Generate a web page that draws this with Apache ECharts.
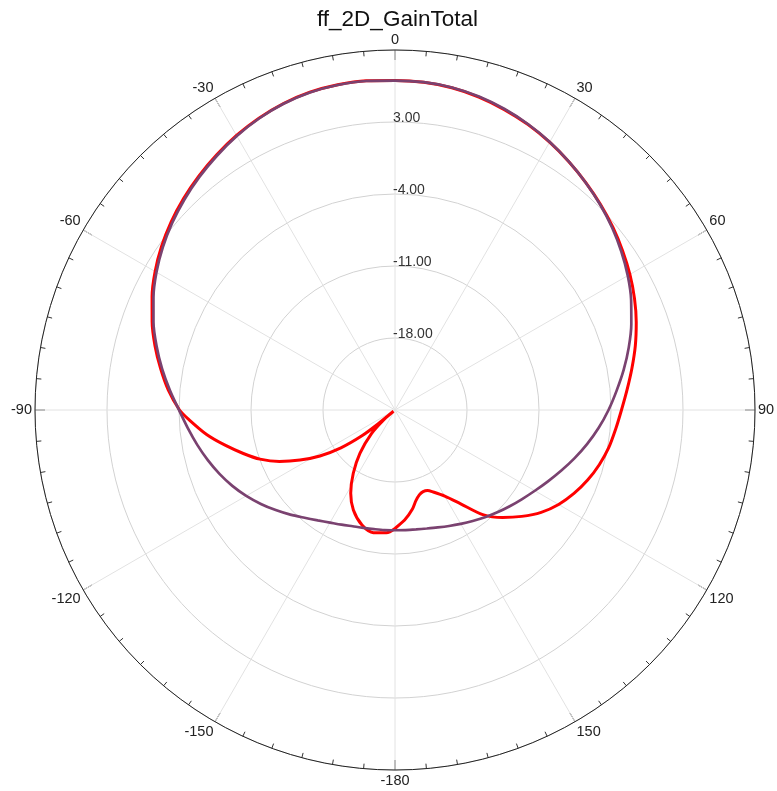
<!DOCTYPE html>
<html>
<head>
<meta charset="utf-8">
<script src="https://cdn.jsdelivr.net/npm/echarts@6/dist/echarts.min.js"></script>
<style>
  html, body { margin: 0; padding: 0; background: #fff; }
  #chart { width: 777px; height: 791px; }
</style>
</head>
<body>
<div id="chart"></div>
<script>
// Far-field total gain cuts (dB) versus angle (deg, -180..180)
const titleText = 'ff_2D_GainTotal';

const cutAAngles = [-180, -175, -170, -165, -160, -155, -150, -145, -140, -135, -130, -125, -120, -115, -110, -105, -100, -95,
  -90, -85, -80, -75, -70, -65, -60, -55, -50, -45, -40, -35, -30, -25, -20, -15, -10, -5,
  0, 5, 10, 15, 20, 25, 30, 35, 40, 45, 50, 55, 60, 65, 70, 75, 80, 85,
  90, 95, 100, 105, 110, 115, 120, 125, 130, 135, 140, 145, 150, 155, 160, 165, 170, 175, 180];
const cutAGain = [-13.31, -13.28, -13.24, -13.14, -12.97, -12.70, -12.36, -11.90, -11.32, -10.61, -9.86, -9.08, -8.30, -7.55, -6.84, -6.16, -5.48, -4.78,
  -4.00, -3.03, -2.01, -1.00, -0.01, 0.91, 1.78, 2.56, 3.28, 3.95, 4.58, 5.18, 5.76, 6.27, 6.68, 6.96, 7.08, 7.11,
  7.03, 6.99, 6.84, 6.55, 6.14, 5.65, 5.09, 4.48, 3.85, 3.22, 2.56, 1.86, 1.13, 0.33, -0.55, -1.47, -2.42, -3.37,
  -4.24, -5.12, -6.02, -6.92, -7.79, -8.59, -9.30, -9.91, -10.44, -10.93, -11.39, -11.83, -12.22, -12.56, -12.85, -13.07, -13.21, -13.28, -13.31];

const cutBAngles = [-180, -176, -170, -164, -157.4, -152, -146.6, -141, -135, -130.6, -130.1, -129.4, -128, -125, -121.5, -117.8, -114, -110, -106, -101.7, -97.4, -92.6,
  -90, -85, -80, -75, -70, -65, -60, -55, -50, -45, -40, -35, -30, -25, -20, -15, -10, -5,
  0, 5, 10, 15, 20, 25, 30, 35, 40, 45, 50, 55, 60, 65, 70, 75, 80, 85,
  90, 95, 100, 105, 110, 115, 120, 125, 130, 135, 140, 145, 150, 155, 158, 161, 164, 167, 170, 175, 180];
const cutBGain = [-13.48, -13.04, -12.89, -13.36, -14.47, -15.83, -17.63, -19.58, -21.79, -23.64, -24.81, -22.86, -20.92, -18.58, -16.44, -14.56, -12.70, -11.03, -9.66, -8.13, -6.53, -4.92,
  -4.05, -2.88, -1.86, -0.84, 0.13, 1.06, 1.93, 2.71, 3.42, 4.07, 4.68, 5.26, 5.82, 6.31, 6.71, 6.99, 7.11, 7.13,
  7.04, 6.98, 6.81, 6.50, 6.08, 5.61, 5.06, 4.47, 3.86, 3.26, 2.65, 2.01, 1.37, 0.69, -0.04, -0.81, -1.61, -2.35,
  -2.98, -3.47, -3.90, -4.44, -5.07, -5.80, -6.63, -7.65, -8.91, -10.22, -11.73, -13.87, -15.33, -16.20, -16.56, -16.61, -16.42, -15.96, -15.23, -14.26, -13.48];

// Radial scale: dB rings
const gainMin = -25, gainMax = 10, gainStep = 7;
// Angle scale ticks
const angleStep = 30;

// Angle axis runs 0..360 clockwise from the top; negative angles wrap around
const wrap = a => (a < 0 ? a + 360 : a);
const toPolar = (angles, gains) => angles.map((a, i) => [gains[i], wrap(a)]);

const chart = echarts.init(document.getElementById('chart'));
const font = 'Liberation Sans, Arial, sans-serif';

chart.setOption({
  animation: false,
  title: {
    text: titleText,
    left: 312,
    top: 3,
    textStyle: { fontFamily: font, fontSize: 22.5, fontWeight: 'normal', color: '#111' }
  },
  polar: { center: [395, 410], radius: 360 },
  angleAxis: {
    type: 'value',
    min: 0, max: 360, interval: angleStep,
    startAngle: 90, clockwise: true,
    axisLine: { lineStyle: { color: '#222', width: 1 } },
    axisTick: { inside: true, length: 10, lineStyle: { color: '#333' } },
    minorTick: { show: true, splitNumber: 6, length: 5, lineStyle: { color: '#333' } },
    axisLabel: {
      margin: 3, fontFamily: font, fontSize: 14.5, color: '#222',
      formatter: v => (v === 360 ? '' : String(v >= 180 ? v - 360 : v))
    },
    splitLine: { show: true, lineStyle: { color: '#e2e2e2', width: 1 } }
  },
  radiusAxis: {
    type: 'value',
    min: gainMin, max: gainMax, interval: gainStep,
    axisLine: { show: false },
    axisTick: { show: false },
    axisLabel: {
      margin: 2, align: 'left', verticalAlign: 'bottom', lineHeight: 8,
      fontFamily: font, fontSize: 14, color: '#333',
      formatter: v => (v === gainMin || v === gainMax ? '' : v.toFixed(2))
    },
    splitLine: { show: true, lineStyle: { color: '#d2d2d2', width: 1 } }
  },
  series: [
    {
      type: 'line', coordinateSystem: 'polar', showSymbol: false, smooth: 0.3,
      data: toPolar(cutBAngles, cutBGain),
      lineStyle: { color: '#ff0000', width: 3 }
    },
    {
      type: 'line', coordinateSystem: 'polar', showSymbol: false, smooth: 0.3,
      data: toPolar(cutAAngles, cutAGain),
      lineStyle: { color: '#7a4270', width: 2.7 }
    }
  ]
});
</script>
</body>
</html>
